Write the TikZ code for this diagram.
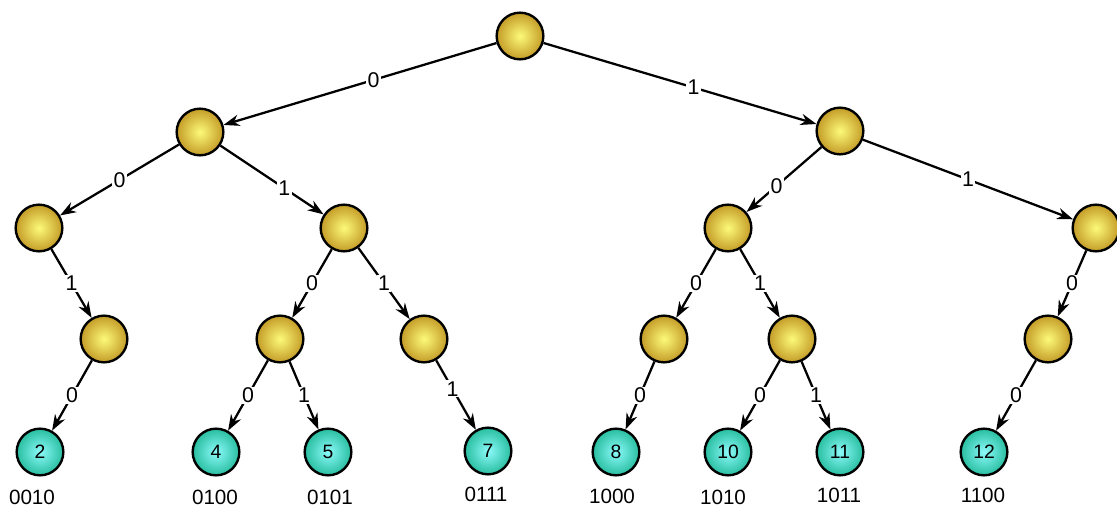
\documentclass[tikz,border=0pt]{standalone}
\usepackage{fontspec}
\setmainfont{Liberation Sans}
\usetikzlibrary{arrows.meta}
\definecolor{goldin}{RGB}{252,250,120}
\definecolor{goldout}{RGB}{196,156,40}
\definecolor{tealin}{RGB}{140,250,250}
\definecolor{tealout}{RGB}{40,190,160}
\tikzset{
  branch/.style={circle, draw, line width=1.8pt, minimum size=35pt,
                 inner sep=0pt, shading=radial,
                 inner color=goldin, outer color=goldout},
  leaf/.style={branch, inner color=tealin, outer color=tealout,
               font=\fontsize{14.5}{16}\selectfont},
  bit/.style={fill=white, inner sep=1pt, font=\fontsize{16}{18}\selectfont},
  code/.style={inner sep=0pt, font=\fontsize{15.5}{18}\selectfont},
  arr/.style={-{Stealth[length=12pt, width=8.5pt]}, line width=1.7pt},
}

\begin{document}
\begin{tikzpicture}[x=0.75pt, y=-0.75pt]
  \useasboundingbox (0,0) rectangle (1117,509);
  % internal nodes
  \node[branch] (root) at (520,36) {};
  \node[branch] (n0)   at (200,132) {};
  \node[branch] (n1)   at (840,131) {};
  \node[branch] (n00)  at (39,228) {};
  \node[branch] (n01)  at (344,228) {};
  \node[branch] (n10)  at (728,228) {};
  \node[branch] (n11)  at (1096,228) {};
  \node[branch] (n001) at (104,339) {};
  \node[branch] (n010) at (280,339) {};
  \node[branch] (n011) at (424,339) {};
  \node[branch] (n100) at (664,339) {};
  \node[branch] (n101) at (792,339) {};
  \node[branch] (n110) at (1048,339) {};
  % leaves
  \node[leaf] (n0010) at (40,452) {2};
  \node[leaf] (n0100) at (216,452) {4};
  \node[leaf] (n0101) at (328,452) {5};
  \node[leaf] (n0111) at (488,451) {7};
  \node[leaf] (n1000) at (616,452) {8};
  \node[leaf] (n1010) at (728,452) {10};
  \node[leaf] (n1011) at (840,452) {11};
  \node[leaf] (n1100) at (984,452) {12};
  % codes
  \node[code] (c0010) at (32,497) {0010};
  \node[code] (c0100) at (215,497) {0100};
  \node[code] (c0101) at (330,497) {0101};
  \node[code] (c0111) at (486,494) {0111};
  \node[code] (c1000) at (612,496) {1000};
  \node[code] (c1010) at (723,497) {1010};
  \node[code] (c1011) at (839,495) {1011};
  \node[code] (c1100) at (983,495) {1100};
  % edges
  \draw[arr] (root) -- node[bit, pos=0.45] {0} (n0);
  \draw[arr] (root) -- node[bit, pos=0.55] {1} (n1);
  \draw[arr] (n0) -- node[bit] {0} (n00);
  \draw[arr] (n0) -- node[bit, pos=0.62] {1} (n01);
  \draw[arr] (n1) -- node[bit, pos=0.6] {0} (n10);
  \draw[arr] (n1) -- node[bit] {1} (n11);
  \draw[arr] (n00) -- node[bit] {1} (n001);
  \draw[arr] (n01) -- node[bit] {0} (n010);
  \draw[arr] (n01) -- node[bit] {1} (n011);
  \draw[arr] (n10) -- node[bit] {0} (n100);
  \draw[arr] (n10) -- node[bit] {1} (n101);
  \draw[arr] (n11) -- node[bit] {0} (n110);
  \draw[arr] (n001) -- node[bit] {0} (n0010);
  \draw[arr] (n010) -- node[bit] {0} (n0100);
  \draw[arr] (n010) -- node[bit] {1} (n0101);
  \draw[arr] (n011) -- node[bit, pos=0.41] {1} (n0111);
  \draw[arr] (n100) -- node[bit] {0} (n1000);
  \draw[arr] (n101) -- node[bit] {0} (n1010);
  \draw[arr] (n101) -- node[bit] {1} (n1011);
  \draw[arr] (n110) -- node[bit] {0} (n1100);
\end{tikzpicture}
\end{document}
